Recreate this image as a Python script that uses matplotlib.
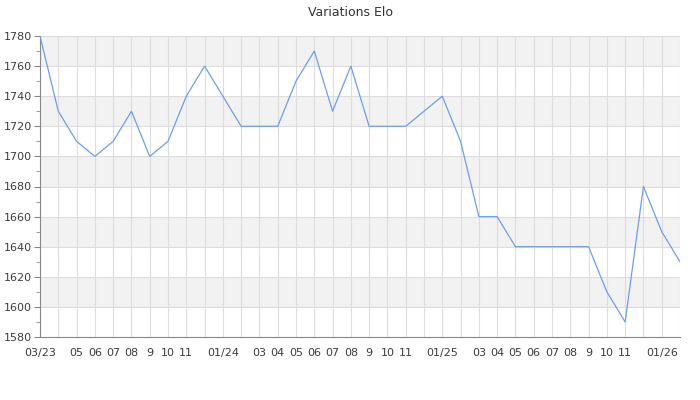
import numpy as np
import matplotlib
matplotlib.use("Agg")
import matplotlib.pyplot as plt

# month index since 03/23 (month 21 = 12/24 has no point)
months = [0, 1, 2, 3, 4, 5, 6, 7, 8, 9, 10, 11, 12, 13, 14, 15, 16, 17, 18, 19, 20,
          22, 23, 24, 25, 26, 27, 28, 29, 30, 31, 32, 33, 34, 35]
elo = [1780, 1730, 1710, 1700, 1710, 1730, 1700, 1710, 1740, 1760, 1740, 1720, 1720,
       1720, 1750, 1770, 1730, 1760, 1720, 1720, 1720,
       1740, 1710, 1660, 1660, 1640, 1640, 1640, 1640, 1640, 1610, 1590, 1680, 1650, 1630]

tick_labels = ["03/23", "", "05", "06", "07", "08", "9", "10", "11", "", "01/24", "",
               "03", "04", "05", "06", "07", "08", "9", "10", "11", "", "01/25", "",
               "03", "04", "05", "06", "07", "08", "9", "10", "11", "", "01/26", ""]

fig = plt.figure(figsize=(7, 4), dpi=100)
ax = fig.add_axes([40 / 700, 1 - 337 / 400, 640 / 700, 301 / 400])

# alternating bands
for lo in range(1600, 1780, 40):
    ax.axhspan(lo, lo + 20, color="#f2f2f2", zorder=0, lw=0)

ax.plot(months, elo, color="#6d9eeb", lw=0.9, zorder=3)

ax.set_xlim(0, 35)
ax.set_ylim(1580, 1780)
ax.set_xticks(range(36))
ax.set_xticklabels(tick_labels)
ax.set_yticks(range(1580, 1781, 20))
ax.set_yticks(range(1590, 1780, 20), minor=True)

ax.grid(True, which="major", color="#dddddd", lw=0.8, zorder=1)
ax.set_axisbelow(True)

for s in ["top", "right"]:
    ax.spines[s].set_visible(False)
for s in ["left", "bottom"]:
    ax.spines[s].set_color("#888888")

ax.tick_params(axis="x", length=0, pad=8, labelsize=8, labelcolor="#3c3c3c")
ax.tick_params(axis="y", which="major", length=4, color="#888888", labelsize=8, labelcolor="#3c3c3c", pad=2)
ax.tick_params(axis="y", which="minor", length=3, color="#888888")

fig.suptitle("Variations Elo", y=1 - 12 / 400, fontsize=9, color="#333333", va="center")

fig.savefig("out.png", dpi=100)
